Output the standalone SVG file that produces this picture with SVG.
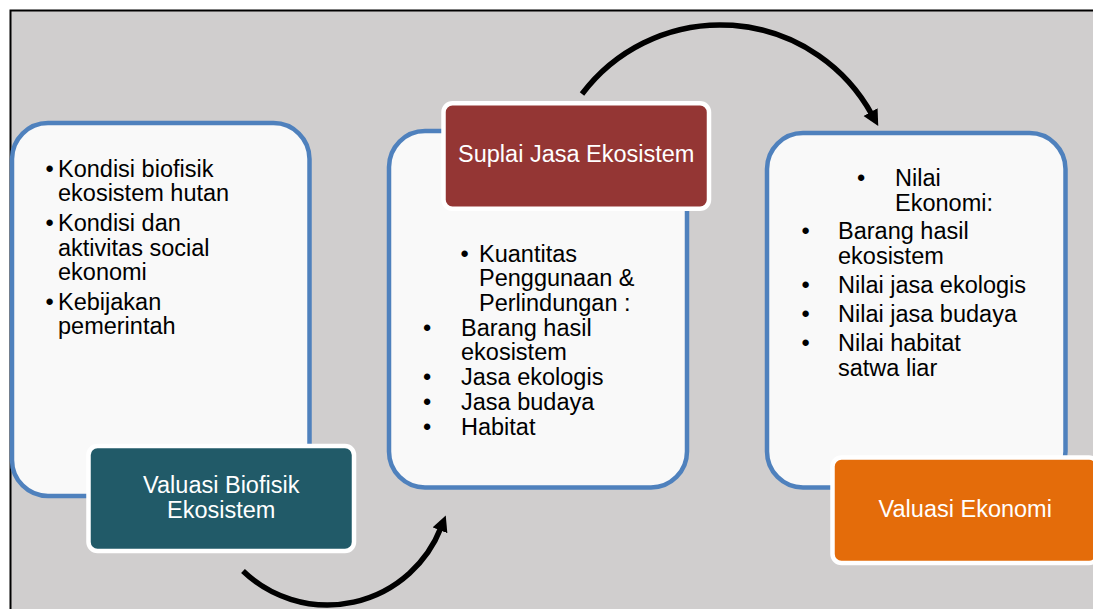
<svg xmlns="http://www.w3.org/2000/svg" width="1093" height="609" viewBox="0 0 1093 609">
<style>
.t{font-family:"Liberation Sans",Arial,sans-serif;font-size:23.5px;fill:#000}
.w{font-family:"Liberation Sans",Arial,sans-serif;font-size:23.5px;fill:#fff;text-anchor:middle}
.b{text-anchor:middle}
.card{fill:#F9F9F9;stroke:#4F81BD;stroke-width:4.5}
.tag{stroke:#fff;stroke-width:4.5}
.arc{fill:none;stroke:#000;stroke-width:5.5}
</style>
<defs>
<marker id="ah" markerUnits="userSpaceOnUse" markerWidth="17" markerHeight="17" refX="3" refY="8" orient="auto">
<path d="M0,0 L16,8 L0,16 Z" fill="#000"/>
</marker>
</defs>
<rect x="0" y="0" width="1093" height="609" fill="#fff"/>
<rect x="10.5" y="10.5" width="1100" height="610" fill="#D0CECE" stroke="#000" stroke-width="2"/>

<g id="node-biofisik">
<rect class="card" x="12" y="123" width="297.5" height="373" rx="36"/>
<text class="t b" x="49.7" y="176.7">•</text>
<text class="t" x="58" y="176.7">Kondisi biofisik</text>
<text class="t" x="58" y="201">ekosistem hutan</text>
<text class="t b" x="49.7" y="231">•</text>
<text class="t" x="58" y="231">Kondisi dan</text>
<text class="t" x="58" y="255.7">aktivitas social</text>
<text class="t" x="58" y="280">ekonomi</text>
<text class="t b" x="49.7" y="310">•</text>
<text class="t" x="58" y="310">Kebijakan</text>
<text class="t" x="58" y="334.3">pemerintah</text>
</g>
<g id="label-biofisik">
<rect class="tag" x="88.5" y="446" width="265.5" height="105" rx="9" fill="#215A68"/>
<text class="w" x="221.25" y="493.3">Valuasi Biofisik</text>
<text class="w" x="221.25" y="517.7">Ekosistem</text>
</g>

<g id="node-suplai">
<rect class="card" x="389" y="131" width="298" height="356.5" rx="36"/>
<text class="t b" x="464.5" y="261.7">•</text>
<text class="t" x="479" y="261.7">Kuantitas</text>
<text class="t" x="479" y="286">Penggunaan &amp;</text>
<text class="t" x="479" y="310.7">Perlindungan :</text>
<text class="t b" x="427" y="335.7">•</text>
<text class="t" x="461" y="335.7">Barang hasil</text>
<text class="t" x="461" y="360">ekosistem</text>
<text class="t b" x="427" y="385">•</text>
<text class="t" x="461" y="385">Jasa ekologis</text>
<text class="t b" x="427" y="410">•</text>
<text class="t" x="461" y="410">Jasa budaya</text>
<text class="t b" x="427" y="435">•</text>
<text class="t" x="461" y="435">Habitat</text>
</g>
<g id="label-suplai">
<rect class="tag" x="443.5" y="103.2" width="265.5" height="105.5" rx="9" fill="#943634"/>
<text class="w" x="576.25" y="162.3">Suplai Jasa Ekosistem</text>
</g>

<g id="node-ekonomi">
<rect class="card" x="767" y="133" width="298.5" height="354.5" rx="36"/>
<text class="t b" x="861" y="185.7">•</text>
<text class="t" x="895" y="185.7">Nilai</text>
<text class="t" x="895" y="210.7">Ekonomi:</text>
<text class="t b" x="805.5" y="239.3">•</text>
<text class="t" x="838" y="239.3">Barang hasil</text>
<text class="t" x="838" y="264">ekosistem</text>
<text class="t b" x="805.5" y="293.3">•</text>
<text class="t" x="838" y="293.3">Nilai jasa ekologis</text>
<text class="t b" x="805.5" y="322.3">•</text>
<text class="t" x="838" y="322.3">Nilai jasa budaya</text>
<text class="t b" x="805.5" y="351">•</text>
<text class="t" x="838" y="351">Nilai habitat</text>
<text class="t" x="838" y="376">satwa liar</text>
</g>
<g id="label-ekonomi">
<rect class="tag" x="832.5" y="457.5" width="265.5" height="105.5" rx="9" fill="#E46C0A"/>
<text class="w" x="965.25" y="517.3">Valuasi Ekonomi</text>
</g>

<g id="connectors">
<path class="arc" d="M243,571 A122,122 0 0 0 441,527.5" marker-end="url(#ah)"/>
<path class="arc" d="M582,94 A173,173 0 0 1 872,114.7" marker-end="url(#ah)"/>
</g>
</svg>
